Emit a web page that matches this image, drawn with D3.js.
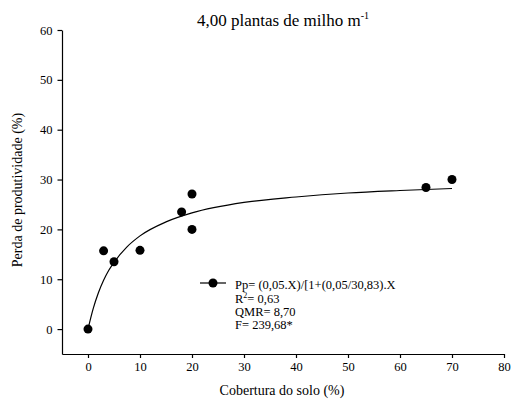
<!DOCTYPE html>
<html>
<head>
<meta charset="utf-8">
<script src="https://cdn.jsdelivr.net/npm/d3@7"></script>
<style>
  body { margin:0; background:#fff; }
</style>
</head>
<body>
<script>
// dados observados (cobertura do solo x perda)
var cobertura = [0, 3, 5, 10, 18, 20, 20, 65, 70];
var perda     = [0, 15.7, 13.5, 15.8, 23.5, 27.1, 20.0, 28.4, 30.0];

// curva ajustada
var curvaX = [0, 1, 2, 3, 4, 5, 7.5, 10, 15, 20, 30, 40, 50, 60, 70];
var curvaY = [0, 4.1, 7.3, 9.8, 11.8, 13.4, 16.5, 18.7, 21.5, 23.3, 25.4, 26.5, 27.3, 27.8, 28.2];

var xTicks = [0, 10, 20, 30, 40, 50, 60, 70, 80];
var yTicks = [0, 10, 20, 30, 40, 50, 60];

var legendaTxt = ["Pp= (0,05.X)/[1+(0,05/30,83).X", "R", "QMR= 8,70", "F= 239,68*"];

var width = 511, height = 410;
var fonte = "'Liberation Serif', 'Times New Roman', 'DejaVu Serif', serif";

var svg = d3.select("body").append("svg").attr("width",width).attr("height",height)
    .attr("font-family",fonte);

var x = d3.scaleLinear().domain([-5,80]).range([62,504]);
var y = d3.scaleLinear().domain([-5,60]).range([354,30]);

var xAxis = d3.axisBottom(x).tickValues(xTicks).tickSize(4).tickSizeOuter(0).tickPadding(4);
var yAxis = d3.axisLeft(y).tickValues(yTicks).tickSize(4.5).tickSizeOuter(0).tickPadding(5);

var gx = svg.append("g").attr("transform","translate(0,354)").call(xAxis);
var gy = svg.append("g").attr("transform","translate(62,0)").call(yAxis);
[gx,gy].forEach(function(g){
  g.attr("font-family",fonte).attr("font-size",12.5);
  g.selectAll("path, line").attr("stroke","#000").attr("stroke-width",1.2);
  g.selectAll("text").attr("fill","#000");
});

// curva
var curva = curvaX.map(function(d,i){ return [d, curvaY[i]]; });
var line = d3.line()
    .x(function(d){ return x(d[0]); })
    .y(function(d){ return y(d[1]); })
    .curve(d3.curveMonotoneX);
svg.append("path").attr("d",line(curva)).attr("fill","none").attr("stroke","#000").attr("stroke-width",1.2);

// pontos
svg.selectAll("circle.pt").data(cobertura).enter().append("circle")
  .attr("class","pt")
  .attr("cx",function(d){ return x(d); })
  .attr("cy",function(d,i){ return y(perda[i]); })
  .attr("r",4.5).attr("fill","#000");

// titulo
var t = svg.append("text").attr("x",283).attr("y",26).attr("text-anchor","middle").attr("font-size",17);
t.append("tspan").text("4,00 plantas de milho m");
t.append("tspan").attr("dy",-7).attr("font-size",10).text("-1");

// titulos dos eixos
svg.append("text").attr("x",282).attr("y",395).attr("text-anchor","middle").attr("font-size",14).text("Cobertura do solo (%)");
svg.append("text").attr("transform","translate(22,190) rotate(-90)").attr("text-anchor","middle").attr("font-size",14).text("Perda de produtividade (%)");

// legenda
var lg = svg.append("g").attr("font-size",12.5);
lg.append("line").attr("x1",200).attr("x2",226).attr("y1",283).attr("y2",283).attr("stroke","#000").attr("stroke-width",1.2);
lg.append("circle").attr("cx",213).attr("cy",283).attr("r",4.5).attr("fill","#000");
lg.append("text").attr("x",235).attr("y",289).text(legendaTxt[0]);
var r2 = lg.append("text").attr("x",235).attr("y",302.5);
r2.append("tspan").text(legendaTxt[1]);
r2.append("tspan").attr("dy",-5).attr("font-size",8).text("2");
r2.append("tspan").attr("dy",5).text("= 0,63");
lg.append("text").attr("x",235).attr("y",316).text(legendaTxt[2]);
lg.append("text").attr("x",235).attr("y",329).text(legendaTxt[3]);
</script>
</body>
</html>
